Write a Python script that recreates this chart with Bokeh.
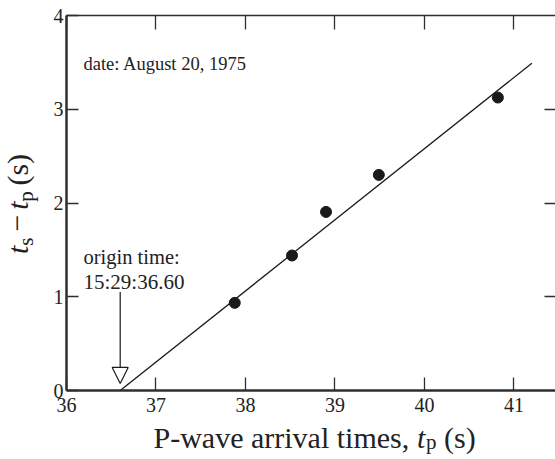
from bokeh.plotting import figure
from bokeh.models import LinearAxis, Label, Arrow, NormalHead, FixedTicker
from bokeh.layouts import column, row
from bokeh.core.properties import value
from bokeh.embed import file_html
from bokeh.resources import INLINE
import math

# ---- data ----
tp = [37.88, 38.52, 38.90, 39.49, 40.82]          # P-wave arrival times (s)
ts_minus_tp = [0.935, 1.44, 1.905, 2.30, 3.125]     # S-P time (s)
fit_x = [36.6, 41.2]
fit_y = [0.0, 3.49]
origin_x = 36.6
x_ticks = [36, 37, 38, 39, 40, 41]
y_ticks = [0, 1, 2, 3, 4]
date_text = "date: August 20, 1975"
origin_lines = ["origin time:", "15:29:36.60"]

FONT = "Liberation Serif"
INK = "#1a1a1a"
AX = "#2e2e2e"
TXT = "#222222"
MID = 0.3375   # baseline offset below the em-box middle, as fraction of font size

XR = (36.0, 41.464)
YR = (0.0, 4.0)

# geometry (pixels)
YSTRIP_W = 40
MAIN_W = 515
MAIN_H = 420
XSTRIP_H = 39
FRAME_L = 66       # window x of left frame edge
FRAME_T = 15
FRAME_B = 390

p = figure(width=MAIN_W, height=MAIN_H, x_range=XR, y_range=YR,
           output_backend="svg", toolbar_location=None,
           min_border_left=FRAME_L - YSTRIP_W, min_border_right=0,
           min_border_top=FRAME_T, min_border_bottom=MAIN_H - FRAME_B)
p.outline_line_color = None
p.grid.visible = False

def style_axis(ax, ticks, tin, lw):
    ax.ticker = FixedTicker(ticks=ticks)
    ax.minor_tick_line_color = None
    ax.major_tick_in = tin
    ax.major_tick_out = 0
    ax.major_tick_line_width = 1.3
    ax.major_tick_line_color = AX
    ax.axis_line_width = lw
    ax.axis_line_color = AX
    ax.major_label_text_font = FONT
    ax.major_label_text_font_size = "20px"
    ax.major_label_text_color = TXT

style_axis(p.xaxis[0], x_ticks, 13, 2.5)
p.xaxis[0].major_label_standoff = 7
style_axis(p.yaxis[0], y_ticks, 12, 2.5)
p.yaxis[0].major_label_standoff = 3

top = LinearAxis()
style_axis(top, x_ticks, 14, 1.7)
top.major_label_text_font_size = "1px"
top.major_label_text_alpha = 0
top.major_label_standoff = 0
p.add_layout(top, "above")

right = LinearAxis()
style_axis(right, [1, 2, 3], 11, 0)
right.axis_line_color = None
right.major_label_text_font_size = "1px"
right.major_label_text_alpha = 0
right.major_label_standoff = 0
p.add_layout(right, "right")

# fitted line and data points
p.line(fit_x, fit_y, line_color=INK, line_width=1.3)
p.scatter(tp, ts_minus_tp, size=11, fill_color=INK, line_color=INK)

# arrow to origin time
p.add_layout(Arrow(end=NormalHead(size=16, fill_color="white", line_color=INK, line_width=1.2),
                   x_start=origin_x, y_start=1.05, x_end=origin_x, y_end=0.075,
                   line_color=INK, line_width=1.2))

def X(sx):
    return XR[0] + (sx - FRAME_L) * (XR[1] - XR[0]) / (YSTRIP_W + MAIN_W - FRAME_L)
def Y(sy):
    return (FRAME_B - sy) * (YR[1] - YR[0]) / (FRAME_B - FRAME_T)

def lab(sx, baseline, text, size):
    p.add_layout(Label(x=X(sx), y=Y(baseline - MID * size), text=text, text_font=FONT,
                       text_font_size=f"{size}px", text_color=TXT,
                       text_align="left", text_baseline="middle"))

lab(83, 70, date_text, 18.5)
lab(83, 263.5, origin_lines[0], 20.5)
lab(83, 288.3, origin_lines[1], 21)

# ---- strips for the axis titles (mixed styles) ----
def strip(w, h):
    s = figure(width=w, height=h, x_range=(0, w), y_range=(0, h),
               output_backend="svg", toolbar_location=None,
               x_axis_type=None, y_axis_type=None,
               min_border_left=0, min_border_right=0, min_border_top=0, min_border_bottom=0)
    s.outline_line_color = None
    s.grid.visible = False
    return s

def put_h(s, h, sx, baseline, text, size, style="normal"):
    s.text(x=[sx], y=[h - (baseline - MID * size)], text=[text],
           text_font=value(FONT), text_font_size=value(f"{size}px"),
           text_font_style=style, text_color=TXT,
           text_align="left", text_baseline="middle")

def put_v(s, h, baseline_x, sy, text, size, style="normal"):
    s.text(x=[baseline_x - MID * size], y=[h - sy], text=[text], angle=math.pi / 2,
           text_font=value(FONT), text_font_size=value(f"{size}px"),
           text_font_style=style, text_color=TXT,
           text_align="left", text_baseline="middle")

F = 30
SP = 7.5   # width of a space at F
BX = 27    # baseline x of the rotated y title
# y-axis title: "t_s − t_p (s)" rotated (start positions measured upward)
ys = strip(YSTRIP_W, MAIN_H)
put_v(ys, MAIN_H, BX, 267, "t", F, "italic")
put_v(ys, MAIN_H, BX + 6, 258, "s", 21)
put_v(ys, MAIN_H, BX, 249.5 - SP, "\u2212", F)
put_v(ys, MAIN_H, BX, 217.5, "t", F, "italic")
put_v(ys, MAIN_H, BX + 6, 208.5, "p", 21)
put_v(ys, MAIN_H, BX, 198 - SP, "(s)", F)

# x-axis title: "P-wave arrival times, t_p (s)"
xs = strip(YSTRIP_W + MAIN_W, XSTRIP_H)
base = 447 - MAIN_H
put_h(xs, XSTRIP_H, 153, base, "P-wave arrival times,", F)
put_h(xs, XSTRIP_H, 416.5, base, "t", F, "italic")
put_h(xs, XSTRIP_H, 425.5, base + 2, "p", 21)
put_h(xs, XSTRIP_H, 436 + SP, base, "(s)", F)

layout = column(row(ys, p, spacing=0), xs, spacing=0)
open("out.html", "w").write(file_html(layout, INLINE))
